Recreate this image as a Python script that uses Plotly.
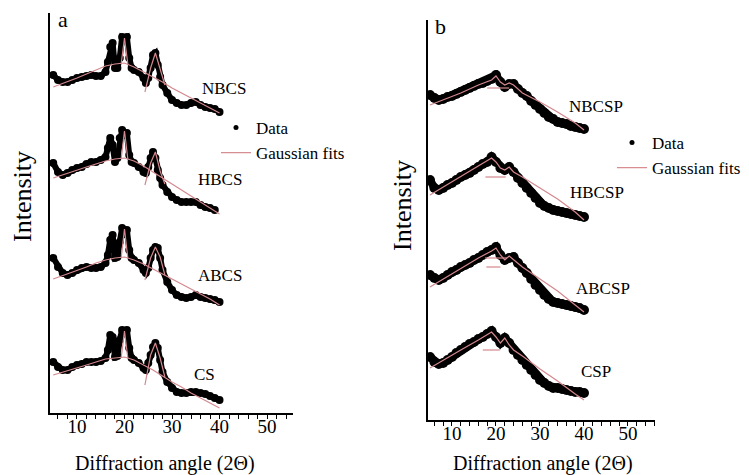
import plotly.graph_objects as go

# ---------------- data ----------------
# Panel a: chitosan-like samples, shared 2-theta grid
two_theta_a = [5, 6, 7, 8, 9, 10, 11, 12, 13, 14, 15, 16, 16.5, 17, 17.5, 18, 18.5, 19, 19.5, 20,
               20.5, 21, 21.5, 22, 23, 24, 24.5, 25, 25.5, 26, 26.5, 27, 27.5, 28, 29, 30, 31, 32,
               33, 34, 35, 36, 37, 38, 39, 40]
nbcs = [38, 33, 31, 31, 33, 35, 36, 37, 38, 37, 37, 41, 51, 66, 70, 45, 45, 55, 76, 75,
        76, 55, 45, 43, 41, 35, 30, 35, 45, 58, 60, 48, 36, 28, 20, 13, 10, 8,
        8, 10, 11, 8, 6, 5, 4, 1]
hbcs = [50, 41, 38, 40, 43, 45, 46, 49, 51, 51, 53, 56, 65, 75, 68, 51, 55, 75, 83, 78,
        80, 58, 51, 50, 46, 41, 40, 46, 55, 61, 55, 43, 35, 28, 21, 16, 13, 11,
        11, 11, 11, 8, 6, 5, 3, None]
abcs = [55, 46, 40, 38, 40, 43, 45, 46, 45, 45, 46, 50, 58, 73, 78, 55, 56, 71, 85, 80,
        83, 63, 55, 53, 50, 43, 40, 45, 55, 63, 66, 65, 55, 43, 31, 23, 18, 16,
        15, 16, 18, 16, 15, 14, 13, 11]
cs = [51, 46, 43, 43, 46, 48, 49, 51, 51, 51, 52, 55, 63, 78, 76, 56, 57, 73, 83, 80,
      83, 65, 55, 53, 50, 45, 43, 50, 58, 66, 70, 65, 53, 41, 31, 25, 21, 20,
      20, 21, 21, 20, 19, 17, 15, 13]

# Panel a Gaussian fits: broad amorphous component
fit_theta_a = [5, 8, 10, 12, 14, 16, 18, 20, 22, 24, 26, 28, 30, 32, 34, 36, 38, 40]
fit_nbcs = [26, 31, 35, 39, 43, 47, 49, 50, 46, 41, 36, 31, 25, 20, 15, 10, 5, 0]
fit_hbcs = [35, 40, 43, 46, 49, 52, 54, 55, 52, 47, 41, 35, 29, 23, 17, 11, 5, -1]
fit_abcs = [34, 39, 42, 46, 50, 53, 55, 56, 53, 49, 44, 39, 34, 29, 24, 19, 14, 8]
fit_cs = [38, 42, 45, 48, 51, 54, 55, 56, 53, 48, 43, 37, 31, 26, 20, 15, 10, 5]
# Panel a Gaussian fits: narrow crystalline peaks (near 20 and 26.5 degrees)
peak2_theta = [19.3, 20, 20.7]
peak3_theta = [24.3, 25.5, 26.5, 27.5, 28.5]
pk2_nbcs, pk3_nbcs = [49, 75, 49], [21, 45, 60, 44, 28]
pk2_hbcs, pk3_hbcs = [54, 82, 54], [28, 50, 61, 42, 29]
pk2_abcs, pk3_abcs = [55, 84, 55], [33, 55, 66, 56, 38]
pk2_cs, pk3_cs = [55, 82, 55], [28, 58, 70, 55, 36]

# Panel b: particle samples
two_theta_b = list(range(5, 41))
nbcsp = [45, 42, 40, 41, 43, 44, 46, 48, 50, 52, 54, 56, 57, 59, 61, 65, 58, 53, 56, 56,
         51, 47, 44, 39, 35, 31, 27, 23, 21, 18, 17, 16, 14, 13, 12, 11]
hbcsp = [50, 42, 40, 42, 45, 47, 50, 53, 55, 57, 60, 63, 66, 68, 73, 68, 62, 60, 63, 58,
         52, 47, 42, 37, 32, 27, 24, 22, 20, 19, 18, 17, 16, 15, 14, 13]
abcsp = [55, 52, 50, 52, 55, 58, 60, 63, 65, 67, 70, 72, 75, 78, 80, 83, 75, 70, 72, 73,
         67, 62, 57, 51, 45, 40, 35, 31, 28, 27, 26, 25, 24, 23, 22, 20]
csp = [63, 58, 56, 57, 60, 63, 67, 70, 73, 76, 78, 81, 83, 86, 89, 83, 77, 82, 77, 70,
       65, 60, 55, 50, 45, 40, 37, 34, 32, 32, 31, 30, 29, 28, 28, 27]

fit_theta_b = [5, 8, 12, 16, 19, 20, 21, 22, 23, 24, 26, 30, 34, 38, 40]
fit_nbcsp = [35, 40, 47, 55, 60, 64, 58, 55, 57, 55, 47, 38, 28, 17, 10]
fit_hbcsp = [35, 43, 53, 64, 72, 68, 62, 60, 63, 58, 53, 42, 31, 18, 10]
fit_abcsp = [43, 51, 62, 72, 79, 82, 75, 70, 74, 70, 63, 51, 39, 25, 18]
fit_csp = [52, 60, 70, 80, 88, 83, 77, 82, 75, 70, 64, 51, 39, 26, 20]
# flat narrow components under the main peak
flat_theta_nbcsp, flat_nbcsp = [18, 23], [52, 52]
flat_theta_hbcsp, flat_hbcsp = [17.6, 22.2], [53, 53]
flat_theta_abcsp, flat_abcsp = [17.5, 22.5], [72, 72]
flat_theta_abcsp2, flat_abcsp2 = [17.8, 21.0], [63, 63]
flat_theta_csp, flat_csp = [17.0, 20.9], [70, 70]

names_a = ["NBCS", "HBCS", "ABCS", "CS"]
names_b = ["NBCSP", "HBCSP", "ABCSP", "CSP"]
offsets_a = [300, 200, 100, 0]
offsets_b = [280, 190, 90, 0]

x_ticks_major = 10
x_ticks_minor = 2

# ---------------- styling ----------------
SERIF = "Liberation Serif"
FIT_COLOR = "#d4888e"

fig = go.Figure()


def shift(vals, off):
    return [None if v is None else v + off for v in vals]


def add_data(x, vals, off, xa, ya, lw, ms):
    fig.add_trace(go.Scatter(
        x=x, y=shift(vals, off), mode="lines+markers", xaxis=xa, yaxis=ya,
        line=dict(color="black", width=lw), marker=dict(color="black", size=ms),
        showlegend=False, hoverinfo="skip", connectgaps=False))


def add_fit(x, vals, off, xa, ya):
    fig.add_trace(go.Scatter(
        x=x, y=shift(vals, off), mode="lines", xaxis=xa, yaxis=ya,
        line=dict(color=FIT_COLOR, width=1.2), showlegend=False, hoverinfo="skip"))


# panel a
data_a = [nbcs, hbcs, abcs, cs]
fits_a = [fit_nbcs, fit_hbcs, fit_abcs, fit_cs]
pk2_a = [pk2_nbcs, pk2_hbcs, pk2_abcs, pk2_cs]
pk3_a = [pk3_nbcs, pk3_hbcs, pk3_abcs, pk3_cs]
for vals, off in zip(data_a, offsets_a):
    add_data(two_theta_a, vals, off, "x", "y", 6, 8)
for f, p2, p3, off in zip(fits_a, pk2_a, pk3_a, offsets_a):
    add_fit(fit_theta_a, f, off, "x", "y")
    add_fit(peak2_theta, p2, off, "x", "y")
    add_fit(peak3_theta, p3, off, "x", "y")

# panel b
data_b = [nbcsp, hbcsp, abcsp, csp]
fits_b = [fit_nbcsp, fit_hbcsp, fit_abcsp, fit_csp]
flats_b = [[(flat_theta_nbcsp, flat_nbcsp)],
           [(flat_theta_hbcsp, flat_hbcsp)],
           [(flat_theta_abcsp, flat_abcsp), (flat_theta_abcsp2, flat_abcsp2)],
           [(flat_theta_csp, flat_csp)]]
for vals, off in zip(data_b, offsets_b):
    add_data(two_theta_b, vals, off, "x2", "y2", 8, 10)
for f, fl, off in zip(fits_b, flats_b, offsets_b):
    add_fit(fit_theta_b, f, off, "x2", "y2")
    for fx, fy in fl:
        add_fit(fx, fy, off, "x2", "y2")

# legend entries (symbols only)
for lg in ["legend", "legend2"]:
    fig.add_trace(go.Scatter(x=[None], y=[None], mode="markers", name="Data",
                             marker=dict(color="black", size=5), legend=lg,
                             xaxis="x" if lg == "legend" else "x2",
                             yaxis="y" if lg == "legend" else "y2"))
    fig.add_trace(go.Scatter(x=[None], y=[None], mode="lines", name="Gaussian fits",
                             line=dict(color=FIT_COLOR, width=1.2), legend=lg,
                             xaxis="x" if lg == "legend" else "x2",
                             yaxis="y" if lg == "legend" else "y2"))

W, H = 749, 475


def px_x(p):
    return p / W


def px_y(p):
    return 1 - p / H


xcommon = dict(showline=True, linecolor="black", linewidth=1.5, showgrid=False, zeroline=False,
               ticks="outside", ticklen=4, tickcolor="black", tickwidth=1,
               tick0=0, dtick=x_ticks_major, ticklabelstandoff=-9,
               minor=dict(ticks="outside", ticklen=4, dtick=x_ticks_minor, tickcolor="black"),
               tickfont=dict(family=SERIF, size=19, color="black"), fixedrange=True)
ycommon = dict(showline=True, linecolor="black", linewidth=1.5, showgrid=False, zeroline=False,
               showticklabels=False, ticks="", range=[0, 400], fixedrange=True)

fig.update_layout(
    width=W, height=H,
    margin=dict(l=0, r=0, t=0, b=0, autoexpand=False),
    paper_bgcolor="white", plot_bgcolor="white",
    font=dict(family=SERIF, color="black"),
    xaxis=dict(domain=[px_x(50), px_x(293)], range=[4.32, 55.47], anchor="y", **xcommon),
    yaxis=dict(domain=[px_y(413), px_y(13)], anchor="x", **ycommon),
    xaxis2=dict(domain=[px_x(428), px_x(655)], range=[4.55, 56.14], anchor="y2", **xcommon),
    yaxis2=dict(domain=[px_y(420), px_y(20)], anchor="x2", **ycommon),
    legend=dict(x=px_x(216), y=px_y(110), xanchor="left", yanchor="top",
                font=dict(family=SERIF, size=17, color="black"), bgcolor="rgba(0,0,0,0)",
                tracegroupgap=0, itemwidth=30),
    legend2=dict(x=px_x(612), y=px_y(125), xanchor="left", yanchor="top",
                 font=dict(family=SERIF, size=17, color="black"), bgcolor="rgba(0,0,0,0)",
                 tracegroupgap=0, itemwidth=30),
)

TXT = dict(showarrow=False, xanchor="center", yanchor="middle")
ann = []
# sample labels (axis coordinates)
label_pos_a = [(40.9, 325), (40.1, 234), (40.1, 138), (36.9, 39)]
label_pos_b = [(42.7, 314), (43.0, 228), (44.3, 132), (42.7, 49)]
for n, (lx, ly) in zip(names_a, label_pos_a):
    ann.append(dict(x=lx, y=ly, xref="x", yref="y", text=n,
                    font=dict(family=SERIF, size=17, color="black"), **TXT))
for n, (lx, ly) in zip(names_b, label_pos_b):
    ann.append(dict(x=lx, y=ly, xref="x2", yref="y2", text=n,
                    font=dict(family=SERIF, size=17, color="black"), **TXT))
# panel letters
ann.append(dict(x=px_x(63), y=px_y(19), xref="paper", yref="paper", text="a",
                font=dict(family=SERIF, size=22, color="black"), **TXT))
ann.append(dict(x=px_x(441), y=px_y(26), xref="paper", yref="paper", text="b",
                font=dict(family=SERIF, size=22, color="black"), **TXT))
# axis titles
for cx in [165, 543]:
    ann.append(dict(x=px_x(cx), y=px_y(463), xref="paper", yref="paper",
                    text="Diffraction angle (2Θ)",
                    font=dict(family=SERIF, size=20, color="black"), **TXT))
for cx, cy in [(22, 197), (402, 206)]:
    ann.append(dict(x=px_x(cx), y=px_y(cy), xref="paper", yref="paper", text="Intensity",
                    textangle=-90, font=dict(family=SERIF, size=26, color="black"), **TXT))
fig.update_layout(annotations=ann)

fig.write_html("out.html", config={"displayModeBar": False},
               post_script="document.body.style.margin='0px';")
